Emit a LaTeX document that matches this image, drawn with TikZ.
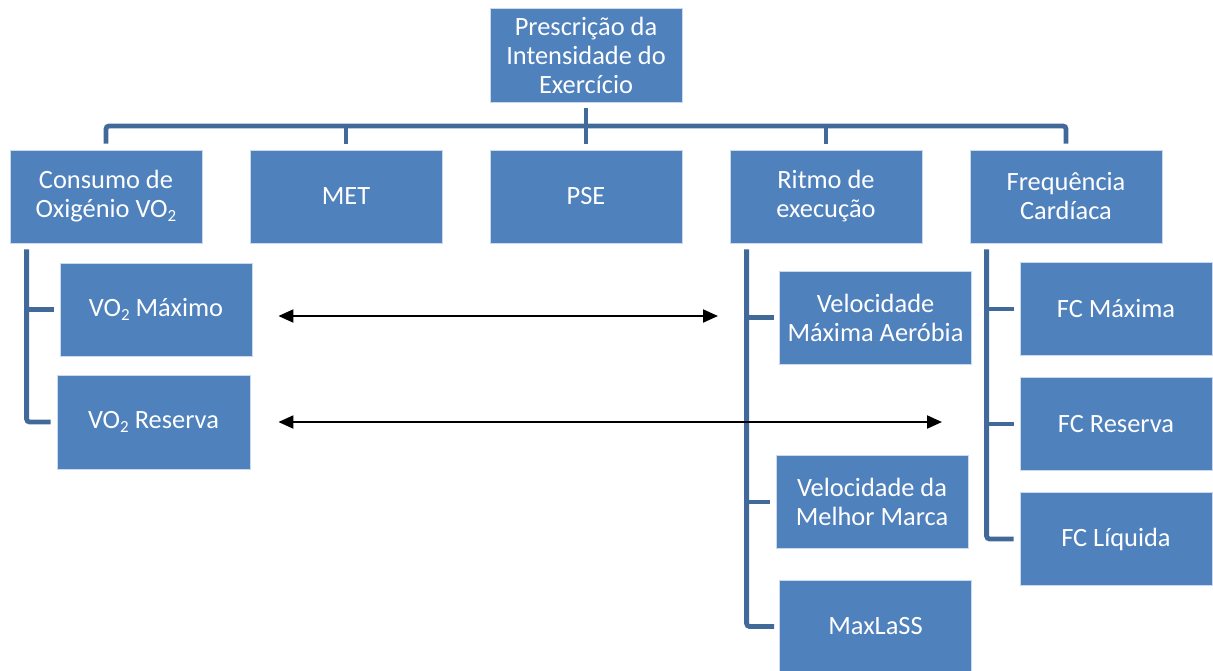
\documentclass[tikz,border=0pt]{standalone}
\usepackage{fontspec}
\setmainfont{Carlito}
\usetikzlibrary{arrows.meta}

\definecolor{kasten}{HTML}{4F81BD}
\definecolor{linie}{HTML}{41699A}

\newcommand{\unten}[1]{\raisebox{-0.3ex}{\fontsize{8.5}{8.5}\selectfont #1}}

\tikzset{
	kasten/.style={fill=kasten, draw=white!70!kasten, line width=0.4pt, text=white,
		minimum width=96pt, minimum height=46.5pt, align=center, inner sep=0pt,
		font=\fontsize{13.2}{14.5}\selectfont},
	verbinder/.style={draw=linie, line width=2.4pt, rounded corners=1.5pt},
	pfeil/.style={{Triangle[length=7.5pt,width=6.5pt]}-{Triangle[length=7.5pt,width=6.5pt]}, line width=1pt, black}
}

\begin{document}
\begin{tikzpicture}[x=0.5pt, y=-0.5pt]
	\useasboundingbox (0,0) rectangle (1213,670);
	
	% Zeichnet den obersten Kasten
	\node[kasten, minimum height=47pt] (prescricao) at (586,55) {Prescrição da\\Intensidade do\\Exercício};
	
	% Zeichnet die fuenf Kasten der zweiten Ebene
	\node[kasten] (consumo) at (106,196.5) {Consumo de\\Oxigénio VO\unten{2}};
	\node[kasten] (met) at (346,196.5) {MET};
	\node[kasten] (pse) at (586,196.5) {PSE};
	\node[kasten] (ritmo) at (826,196.5) {Ritmo de\\execução};
	\node[kasten] (frequencia) at (1066,196.5) {Frequência\\Cardíaca};
	
	% Zeichnet die Kasten unter Consumo de Oxigenio
	\node[kasten] (vomax) at (156,309.5) {VO\unten{2} Máximo};
	\node[kasten, minimum width=96.5pt, minimum height=47pt] (vores) at (153.5,422) {VO\unten{2} Reserva};
	
	% Zeichnet die Kasten unter Ritmo de execucao
	\node[kasten] (vma) at (875.5,317.5) {Velocidade\\Máxima Aeróbia};
	\node[kasten] (melhor) at (872,502) {Velocidade da\\Melhor Marca};
	\node[kasten] (maxlass) at (875.5,626.5) {MaxLaSS};
	
	% Zeichnet die Kasten unter Frequencia Cardiaca
	\node[kasten] (fcmax) at (1116,309) {FC Máxima};
	\node[kasten] (fcres) at (1116,424) {FC Reserva};
	\node[kasten] (fcliq) at (1116,539) {FC Líquida};
	
	% Zeichnet den Querbalken unter dem obersten Kasten
	\coordinate (balken) at (586,126);
	\draw[verbinder] ([yshift=-3pt]prescricao.south) -- ([yshift=3pt]pse.north);
	\draw[verbinder] ([yshift=3pt]consumo.north) -- (consumo.north |- balken) -- (frequencia.north |- balken) -- ([yshift=3pt]frequencia.north);
	\draw[verbinder] (met.north |- balken) -- ([yshift=3pt]met.north);
	\draw[verbinder] (ritmo.north |- balken) -- ([yshift=3pt]ritmo.north);
	
	% Zeichnet die linke Leiste (Consumo de Oxigenio)
	\coordinate (leisteA) at ([xshift=8.5pt, yshift=-3pt]consumo.south west);
	\draw[verbinder] (leisteA) |- ([xshift=-3pt]vores.west);
	\draw[verbinder] (leisteA |- vomax.west) -- ([xshift=-3pt]vomax.west);
	
	% Zeichnet die mittlere Leiste (Ritmo de execucao)
	\coordinate (leisteB) at ([xshift=8.5pt, yshift=-3pt]ritmo.south west);
	\draw[verbinder] (leisteB) |- ([xshift=-2.5pt]maxlass.west);
	\draw[verbinder] (leisteB |- vma.west) -- ([xshift=-2.5pt]vma.west);
	\draw[verbinder] (leisteB |- melhor.west) -- ([xshift=-3pt]melhor.west);
	
	% Zeichnet die rechte Leiste (Frequencia Cardiaca)
	\coordinate (leisteC) at ([xshift=8.5pt, yshift=-3pt]frequencia.south west);
	\draw[verbinder] (leisteC) |- ([xshift=-3pt]fcliq.west);
	\draw[verbinder] (leisteC |- fcmax.west) -- ([xshift=-3pt]fcmax.west);
	\draw[verbinder] (leisteC |- fcres.west) -- ([xshift=-3pt]fcres.west);
	
	% Zeichnet die Doppelpfeile
	\coordinate (pfeil1a) at ([xshift=13pt, yshift=-3.25pt]vomax.east);
	\coordinate (pfeil1b) at (718,316);
	\draw[pfeil] (pfeil1a) -- (pfeil1b);
	\coordinate (pfeil2a) at ([xshift=14pt]vores.east);
	\coordinate (pfeil2b) at (942,422);
	\draw[pfeil] (pfeil2a) -- (pfeil2b);
	
\end{tikzpicture}
\end{document}
